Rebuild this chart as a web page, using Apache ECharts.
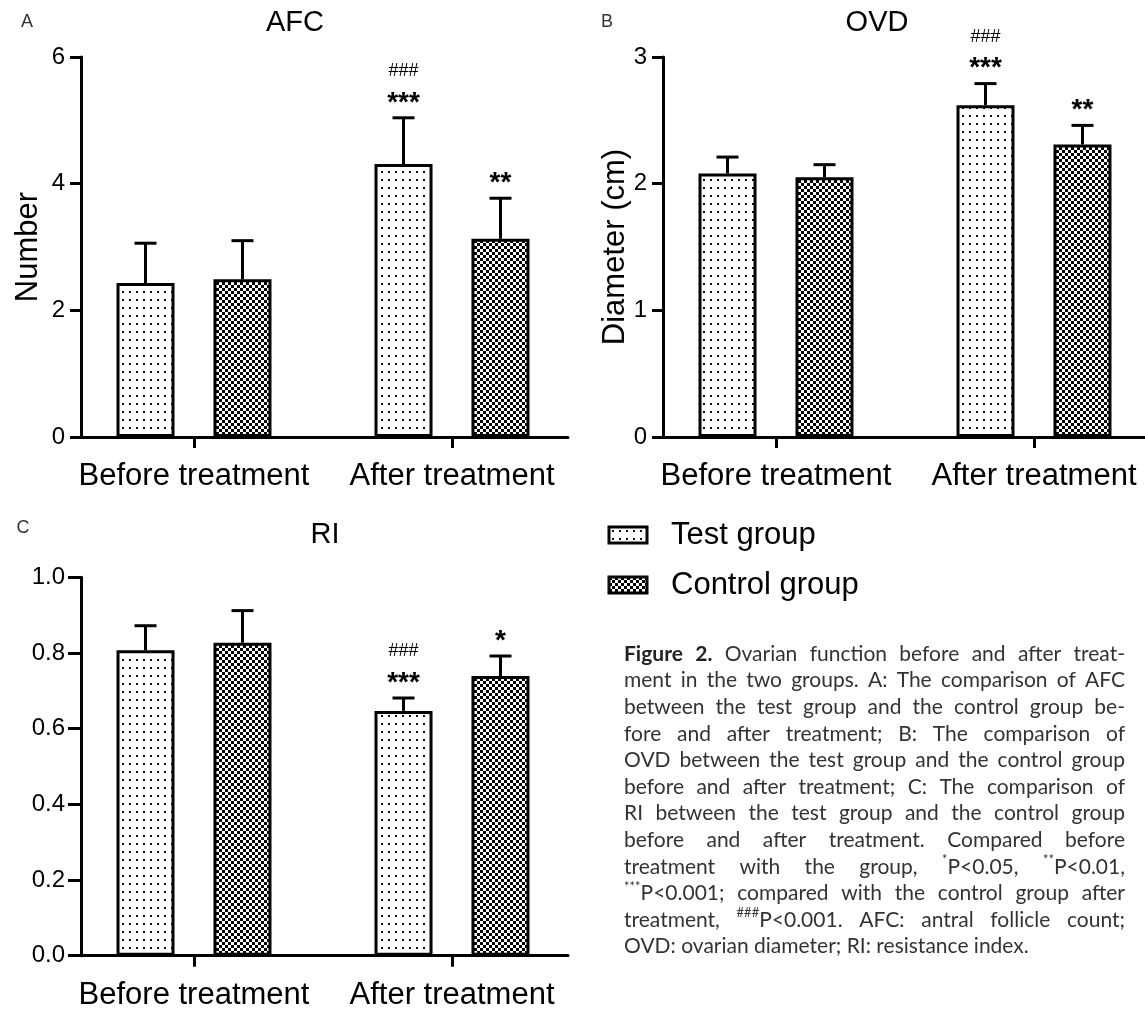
<!DOCTYPE html>
<html><head><meta charset="utf-8">
<script src="https://cdn.jsdelivr.net/npm/echarts@6/dist/echarts.min.js"></script>
<style>html,body{margin:0;padding:0;background:#fff}#c{width:1145px;height:1014px}</style>
</head><body><div id="c"></div>
<script>
// ---------------- data ----------------
const categories = ['Before treatment', 'After treatment'];
const groups = ['Test group', 'Control group'];

const afcTicks = [0, 2, 4, 6];
const afcTestMean = [2.43, 4.31];
const afcTestErr = [0.63, 0.73];
const afcCtrlMean = [2.49, 3.13];
const afcCtrlErr = [0.61, 0.64];
const afcTestStar = ['', '***'];
const afcTestHash = ['', '###'];
const afcCtrlStar = ['', '**'];
const afcCtrlHash = ['', ''];

const ovdTicks = [0, 1, 2, 3];
const ovdTestMean = [2.08, 2.62];
const ovdTestErr = [0.13, 0.17];
const ovdCtrlMean = [2.05, 2.31];
const ovdCtrlErr = [0.10, 0.15];
const ovdTestStar = ['', '***'];
const ovdTestHash = ['', '###'];
const ovdCtrlStar = ['', '**'];
const ovdCtrlHash = ['', ''];

const riTicks = [0, 0.2, 0.4, 0.6, 0.8, 1.0];
const riTestMean = [0.807, 0.647];
const riTestErr = [0.065, 0.034];
const riCtrlMean = [0.827, 0.739];
const riCtrlErr = [0.085, 0.053];
const riTestStar = ['', '***'];
const riTestHash = ['', '###'];
const riCtrlStar = ['', '*'];
const riCtrlHash = ['', ''];

const panelTitles = ['AFC', 'OVD', 'RI'];
const panelLetters = ['A', 'B', 'C'];
const yNames = ['Number', 'Diameter (cm)', ''];
const tickDecimals = [0, 0, 1];

const captionLines = [
  '§Figure §2. Ovarian function before and after treat-',
  'ment in the two groups. A: The comparison of AFC',
  'between the test group and the control group be-',
  'fore and after treatment; B: The comparison of',
  'OVD between the test group and the control group',
  'before and after treatment; C: The comparison of',
  'RI between the test group and the control group',
  'before and after treatment. Compared before',
  'treatment with the group, [*]P<0.05, [**]P<0.01,',
  '[***]P<0.001; compared with the control group after',
  'treatment, [###]P<0.001. AFC: antral follicle count;',
  'OVD: ovarian diameter; RI: resistance index.'
];

// ---------------- layout / style ----------------
const FONT = '"Liberation Sans", Arial, sans-serif';
const CAP_FONT = 'Lato, Roboto, "Liberation Sans", sans-serif';
const gridsLayout = [
  {left: 81, top: 57, width: 487, height: 380, nameGap: 37.5, tickLen: 11},
  {left: 663, top: 57, width: 487, height: 380, nameGap: 32, tickLen: 11},
  {left: 81, top: 577.3, width: 487, height: 378.4, nameGap: 30, tickLen: 13}
];
const X_MIN = -0.438, X_MAX = 1.4496;
const BAR_W = 58, BAR_GAP_PX = 39;
const OFFSET = (BAR_W + BAR_GAP_PX) / 2;

function dotPattern() {
  const c = document.createElement('canvas'); c.width = 7; c.height = 8;
  const g = c.getContext('2d');
  g.fillStyle = '#fff'; g.fillRect(0, 0, 7, 8);
  g.fillStyle = '#111'; g.fillRect(3, 3, 2, 2);
  return {image: c, repeat: 'repeat'};
}
function checkPattern() {
  const c = document.createElement('canvas'); c.width = 6; c.height = 6;
  const g = c.getContext('2d');
  g.fillStyle = '#fff'; g.fillRect(0, 0, 6, 6);
  g.fillStyle = '#000'; g.fillRect(0, 0, 3, 3); g.fillRect(3, 3, 3, 3);
  return {image: c, repeat: 'repeat'};
}
const fills = [dotPattern(), checkPattern()];

const panelData = [
  {ticks: afcTicks, mean: [afcTestMean, afcCtrlMean], err: [afcTestErr, afcCtrlErr], star: [afcTestStar, afcCtrlStar], hash: [afcTestHash, afcCtrlHash]},
  {ticks: ovdTicks, mean: [ovdTestMean, ovdCtrlMean], err: [ovdTestErr, ovdCtrlErr], star: [ovdTestStar, ovdCtrlStar], hash: [ovdTestHash, ovdCtrlHash]},
  {ticks: riTicks, mean: [riTestMean, riCtrlMean], err: [riTestErr, riCtrlErr], star: [riTestStar, riCtrlStar], hash: [riTestHash, riCtrlHash]}
];

const grid = [], xAxis = [], yAxis = [], series = [];
panelData.forEach((p, gi) => {
  const L = gridsLayout[gi];
  grid.push({left: L.left, top: L.top, width: L.width, height: L.height, containLabel: false, outerBoundsMode: 'none'});
  xAxis.push({
    type: 'value', gridIndex: gi, min: X_MIN, max: X_MAX, position: 'bottom',
    axisLine: {show: true, onZero: false, lineStyle: {color: '#000', width: 3}},
    axisTick: {show: true, customValues: [0, 1], length: 11, lineStyle: {color: '#000', width: 3}},
    axisLabel: {show: true, customValues: [0, 1], formatter: v => categories[Math.round(v)] || '',
      fontSize: 31, fontFamily: FONT, color: '#000', margin: 24},
    splitLine: {show: false}
  });
  const step = p.ticks[1] - p.ticks[0];
  yAxis.push({
    type: 'value', gridIndex: gi, position: 'left', min: p.ticks[0], max: p.ticks[p.ticks.length - 1], interval: step,
    name: yNames[gi], nameLocation: 'middle', nameGap: L.nameGap, nameMoveOverlap: false,
    nameTextStyle: {fontSize: 31, fontFamily: FONT, color: '#000'},
    axisLine: {show: true, onZero: false, lineStyle: {color: '#000', width: 3}},
    axisTick: {show: true, length: L.tickLen, lineStyle: {color: '#000', width: 3}},
    axisLabel: {fontSize: 24, fontFamily: FONT, color: '#000', margin: 16,
      formatter: v => Number(v).toFixed(tickDecimals[gi])},
    splitLine: {show: false}
  });
  [0, 1].forEach(k => {
    series.push({
      type: 'bar', name: groups[k], xAxisIndex: gi, yAxisIndex: gi,
      data: p.mean[k].map((m, j) => [j, m]),
      barWidth: BAR_W, barGap: (BAR_GAP_PX / BAR_W * 100).toFixed(1) + '%',
      itemStyle: {color: fills[k], borderColor: '#000', borderWidth: 3},
      emphasis: {disabled: true}, z: 2
    });
  });
  [0, 1].forEach(k => {
    const stars = p.star[k], hashes = p.hash[k], errs = p.err[k];
    const off = k === 0 ? -OFFSET : OFFSET;
    series.push({
      type: 'custom', xAxisIndex: gi, yAxisIndex: gi, z: 5, silent: true,
      data: p.mean[k].map((m, j) => [j, m, m + errs[j]]),
      encode: {x: 0, y: [1, 2]},
      renderItem(params, api) {
        const j = params.dataIndex;
        const base = api.coord([api.value(0), api.value(1)]);
        const top = api.coord([api.value(0), api.value(2)]);
        const cx = base[0] + off;
        const ch = [
          {type: 'line', shape: {x1: cx, y1: base[1], x2: cx, y2: top[1]}, style: {stroke: '#000', lineWidth: 3}},
          {type: 'line', shape: {x1: cx - 11, y1: top[1], x2: cx + 11, y2: top[1]}, style: {stroke: '#000', lineWidth: 3}}
        ];
        if (stars[j]) ch.push({type: 'text', x: cx, y: top[1] - 1,
          style: {text: stars[j], fill: '#000', font: 'bold 28px ' + FONT,
            textAlign: 'center', textVerticalAlign: 'bottom', align: 'center', verticalAlign: 'bottom'}});
        if (hashes[j]) ch.push({type: 'text', x: cx, y: top[1] - 47,
          style: {text: hashes[j], fill: '#000', font: '18px ' + FONT,
            textAlign: 'center', textVerticalAlign: 'middle', align: 'center', verticalAlign: 'middle'}});
        return {type: 'group', children: ch};
      }
    });
  });
});

// ---------------- graphic texts ----------------
const graphic = [];
const titlePos = [[295, 23], [877, 23], [325, 535]];
const letterPos = [[27, 22], [607, 22], [23, 528]];
panelTitles.forEach((t, i) => {
  graphic.push({type: 'text', x: titlePos[i][0], y: titlePos[i][1],
    style: {text: t, fill: '#000', font: '29px ' + FONT, textAlign: 'center', textVerticalAlign: 'middle', align: 'center', verticalAlign: 'middle'}});
  graphic.push({type: 'text', x: letterPos[i][0], y: letterPos[i][1],
    style: {text: panelLetters[i], fill: '#333', font: '18px ' + FONT, textAlign: 'center', textVerticalAlign: 'middle', align: 'center', verticalAlign: 'middle'}});
});

// justified caption
(function () {
  const ctx = document.createElement('canvas').getContext('2d');
  const CX0 = 624, CX1 = 1125, CY0 = 654, LH = 26.6;
  const W = CX1 - CX0;
  function parseWord(w) {
    let bold = false;
    const segs = [];
    if (w.startsWith('§')) { bold = true; w = w.slice(1); }
    const re = /\[([^\]]*)\]/g; let last = 0, m;
    while ((m = re.exec(w))) {
      if (m.index > last) segs.push({t: w.slice(last, m.index), sup: false, bold});
      segs.push({t: m[1], sup: true, bold});
      last = re.lastIndex;
    }
    if (last < w.length) segs.push({t: w.slice(last), sup: false, bold});
    return segs;
  }
  function fontOf(s, F) { return (s.bold ? 'bold ' : '') + (s.sup ? Math.round(F * 0.6) : F) + 'px ' + CAP_FONT; }
  function measure(segs, F) { return segs.reduce((a, s) => { ctx.font = fontOf(s, F); return a + ctx.measureText(s.t).width; }, 0); }
  const lines = captionLines.map(l => l.split(' ').map(parseWord));
  let F = 21;
  for (; F > 14; F -= 0.5) {
    const ok = lines.every((ws, i) => i === lines.length - 1 ||
      ws.reduce((a, s) => a + measure(s, F), 0) + 3 * (ws.length - 1) <= W);
    if (ok) break;
  }
  ctx.font = F + 'px ' + CAP_FONT;
  const spaceW = ctx.measureText(' ').width;
  lines.forEach((ws, i) => {
    const widths = ws.map(s => measure(s, F));
    const total = widths.reduce((a, b) => a + b, 0);
    const gap = i === lines.length - 1 ? spaceW : (W - total) / (ws.length - 1);
    let x = CX0;
    const y = CY0 + i * LH;
    ws.forEach((segs, wi) => {
      let sx = x;
      segs.forEach(s => {
        ctx.font = fontOf(s, F);
        graphic.push({type: 'text', x: sx, y: s.sup ? y - F * 0.33 : y, silent: true,
          style: {text: s.t, fill: s.bold ? '#222' : '#333', font: fontOf(s, F),
            textAlign: 'left', textVerticalAlign: 'middle', align: 'left', verticalAlign: 'middle'}});
        sx += ctx.measureText(s.t).width;
      });
      x += widths[wi] + gap;
    });
  });
})();

const chart = echarts.init(document.getElementById('c'), null, {renderer: 'canvas'});
chart.setOption({
  animation: false,
  backgroundColor: '#fff',
  grid, xAxis, yAxis, series, graphic,
  legend: {
    orient: 'vertical', left: 607.5, top: 519.5, padding: 0,
    itemWidth: 38, itemHeight: 16, itemGap: 19, icon: 'rect',
    selectedMode: false,
    data: groups,
    itemStyle: {borderColor: '#000', borderWidth: 3},
    textStyle: {fontSize: 31, fontFamily: FONT, color: '#000', padding: [0, 0, 0, 19]}
  }
});
</script></body></html>
